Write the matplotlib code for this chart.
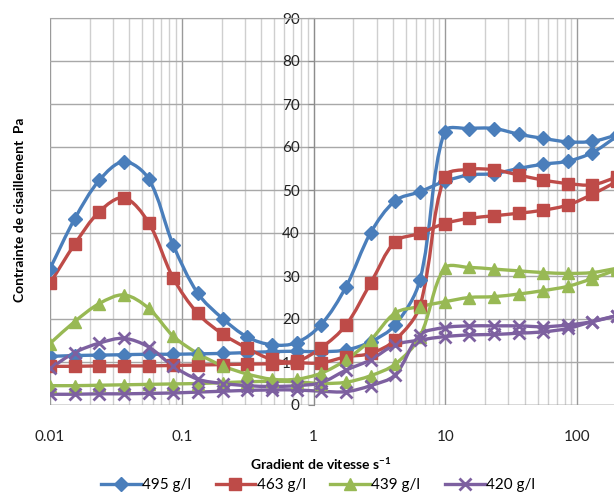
import matplotlib
matplotlib.use('Agg')
import matplotlib.pyplot as plt
import numpy as np
from matplotlib.path import Path
from matplotlib.patches import PathPatch
from matplotlib.lines import Line2D

plt.rcParams['font.family'] = ['Lato', 'DejaVu Sans']

# shear rate (s-1), same grid for the up and down branches
gradient = [0.01, 0.0154, 0.0237, 0.0364, 0.056, 0.0861, 0.132, 0.204, 0.314, 0.482,
            0.742, 1.14, 1.76, 2.70, 4.15, 6.39, 9.83, 15.1, 23.3, 35.8, 55.0, 84.7, 130, 200]

labels = ['495 g/l', '463 g/l', '439 g/l', '420 g/l']

c495_a = [31.7, 43.3, 52.3, 56.6, 52.6, 37.2, 26.0, 20.1, 15.8, 14.0, 14.5, 18.7, 27.5, 40.0,
          47.5, 49.6, 52.0, 53.5, 53.8, 55.0, 56.0, 56.7, 58.7, 62.5]
c495_b = [11.3, 11.5, 11.6, 11.7, 11.8, 11.8, 11.9, 12.0, 12.2, 12.4, 12.5, 12.4, 12.8, 14.7,
          18.6, 29.0, 63.6, 64.3, 64.3, 63.0, 62.0, 61.2, 61.3, 62.8]
c463_a = [28.3, 37.4, 45.0, 48.2, 42.4, 29.5, 21.3, 16.5, 13.2, 10.6, 10.2, 13.3, 18.6, 28.3,
          38.0, 39.9, 42.2, 43.4, 44.0, 44.6, 45.3, 46.5, 49.0, 52.0]
c463_b = [9.0, 9.0, 9.1, 9.1, 9.1, 9.2, 9.3, 9.4, 9.5, 9.6, 9.8, 9.8, 11.2, 12.0,
          15.1, 23.0, 53.1, 54.8, 54.7, 53.5, 52.3, 51.5, 51.2, 53.0]
c439_a = [14.3, 19.4, 23.6, 25.6, 22.5, 16.0, 12.0, 9.1, 7.2, 6.0, 6.0, 7.4, 10.5, 15.1,
          21.4, 22.9, 24.0, 25.0, 25.2, 25.8, 26.6, 27.6, 29.4, 31.5]
c439_b = [4.5, 4.5, 4.6, 4.7, 4.8, 4.9, 5.0, 5.2, 5.4, 5.5, 5.4, 5.0, 5.3, 6.8,
          9.5, 15.9, 31.8, 32.0, 31.6, 31.2, 30.8, 30.6, 30.8, 31.8]
c420_a = [8.5, 12.2, 14.4, 15.5, 13.5, 9.0, 6.0, 5.0, 4.5, 4.3, 4.5, 5.2, 8.1, 10.5,
          14.0, 15.1, 15.9, 16.3, 16.4, 16.7, 17.0, 17.8, 19.4, 20.8]
c420_b = [2.5, 2.5, 2.6, 2.6, 2.7, 2.8, 3.0, 3.2, 3.4, 3.5, 3.5, 3.2, 3.1, 4.5,
          7.0, 16.3, 18.0, 18.4, 18.4, 18.4, 18.2, 18.6, 19.4, 20.8]

colors = ['#4A7EBB', '#BE4B48', '#98B954', '#7D60A0']
markers = ['D', 's', '^', 'x']
msizes = [7, 9, 9, 9]


def smooth_path(x, y):
    '''Smoothed line like Excel: chord-length Catmull-Rom as cubic Bezier.
    Built in a pixel-like space (log10 x, y) so the weights follow the screen.'''
    sx, sy = 132.0, 4.3
    pts = np.column_stack([np.log10(x) * sx, np.asarray(y, dtype=float) * sy])
    n = len(pts)
    verts = [pts[0]]
    codes = [Path.MOVETO]
    for i in range(n - 1):
        p0 = pts[max(i - 1, 0)]
        p1 = pts[i]
        p2 = pts[i + 1]
        p3 = pts[min(i + 2, n - 1)]
        d01 = np.hypot(*(p1 - p0))
        d12 = np.hypot(*(p2 - p1))
        d23 = np.hypot(*(p3 - p2))
        m1 = (p2 - p0) / (d01 + d12) if d01 + d12 > 0 else p2 - p1
        m2 = (p3 - p1) / (d12 + d23) if d12 + d23 > 0 else p2 - p1
        verts += [p1 + m1 * d12 / 3, p2 - m2 * d12 / 3, p2]
        codes += [Path.CURVE4] * 3
    verts = np.array(verts)
    verts[:, 0] = 10 ** (verts[:, 0] / sx)
    verts[:, 1] = verts[:, 1] / sy
    return Path(verts, codes)


def main():
    fig = plt.figure(figsize=(6.14, 4.93), dpi=100)
    ax = fig.add_axes([50 / 614, 88 / 493, 567 / 614, 387 / 493])
    ax.set_xscale('log')
    ax.set_xlim(0.01, 200)
    ax.set_ylim(0, 90)

    ax.grid(True, which='major', axis='x', color='#9a9a9a', lw=1)
    ax.grid(True, which='minor', axis='x', color='#cfcfcf', lw=1)
    ax.grid(True, which='major', axis='y', color='#a8a8a8', lw=1)
    ax.set_axisbelow(True)

    for s in ['right', 'bottom']:
        ax.spines[s].set_visible(False)
    ax.spines['top'].set_color('#a8a8a8')
    ax.spines['left'].set_position(('data', 1))
    ax.spines['left'].set_color('#8c8c8c')
    ax.axhline(0, color='#8c8c8c', lw=1, zorder=1)

    ax.set_yticks(range(0, 91, 10))
    ax.set_xticks([0.01, 0.1, 1, 10, 100])
    ax.set_xticklabels(['0.01', '0.1', '1', '10', '100'])
    ax.tick_params(axis='x', which='both', length=0, pad=18, labelsize=11)
    ax.tick_params(axis='y', length=4, pad=6, labelsize=11, color='#8c8c8c')
    for t in ax.get_xticklabels() + ax.get_yticklabels():
        t.set_color('#222222')

    series = [(c495_a, c495_b), (c463_a, c463_b), (c439_a, c439_b), (c420_a, c420_b)]
    handles = []
    for (ya, yb), col, mk, ms in zip(series, colors, markers, msizes):
        for y in (ya, yb):
            ax.add_patch(PathPatch(smooth_path(gradient, y), fill=False,
                                   edgecolor=col, lw=2.4, zorder=3))
            ax.plot(gradient, y, ls='none', marker=mk, ms=ms, color=col,
                    mew=2 if mk == 'x' else 1, zorder=4)
        handles.append(Line2D([], [], color=col, lw=2.4, marker=mk, ms=ms,
                              mew=2 if mk == 'x' else 1))

    fig.text(20 / 614, 1 - 210 / 493, 'Contrainte de cisaillement  Pa', rotation=90,
             ha='center', va='center', fontsize=10, fontweight='bold')
    fig.text(321 / 614, 1 - 464 / 493, 'Gradient de vitesse s$^{\\mathregular{-1}}$',
             ha='center', va='center', fontsize=10, fontweight='bold')
    fig.legend(handles, labels, loc='center', bbox_to_anchor=(318 / 614, 1 - 485 / 493),
               ncol=4, frameon=False, fontsize=11, handlelength=2.6,
               columnspacing=1.6, handletextpad=0.1)

    fig.savefig('out.png', dpi=100)


if __name__ == '__main__':
    main()
